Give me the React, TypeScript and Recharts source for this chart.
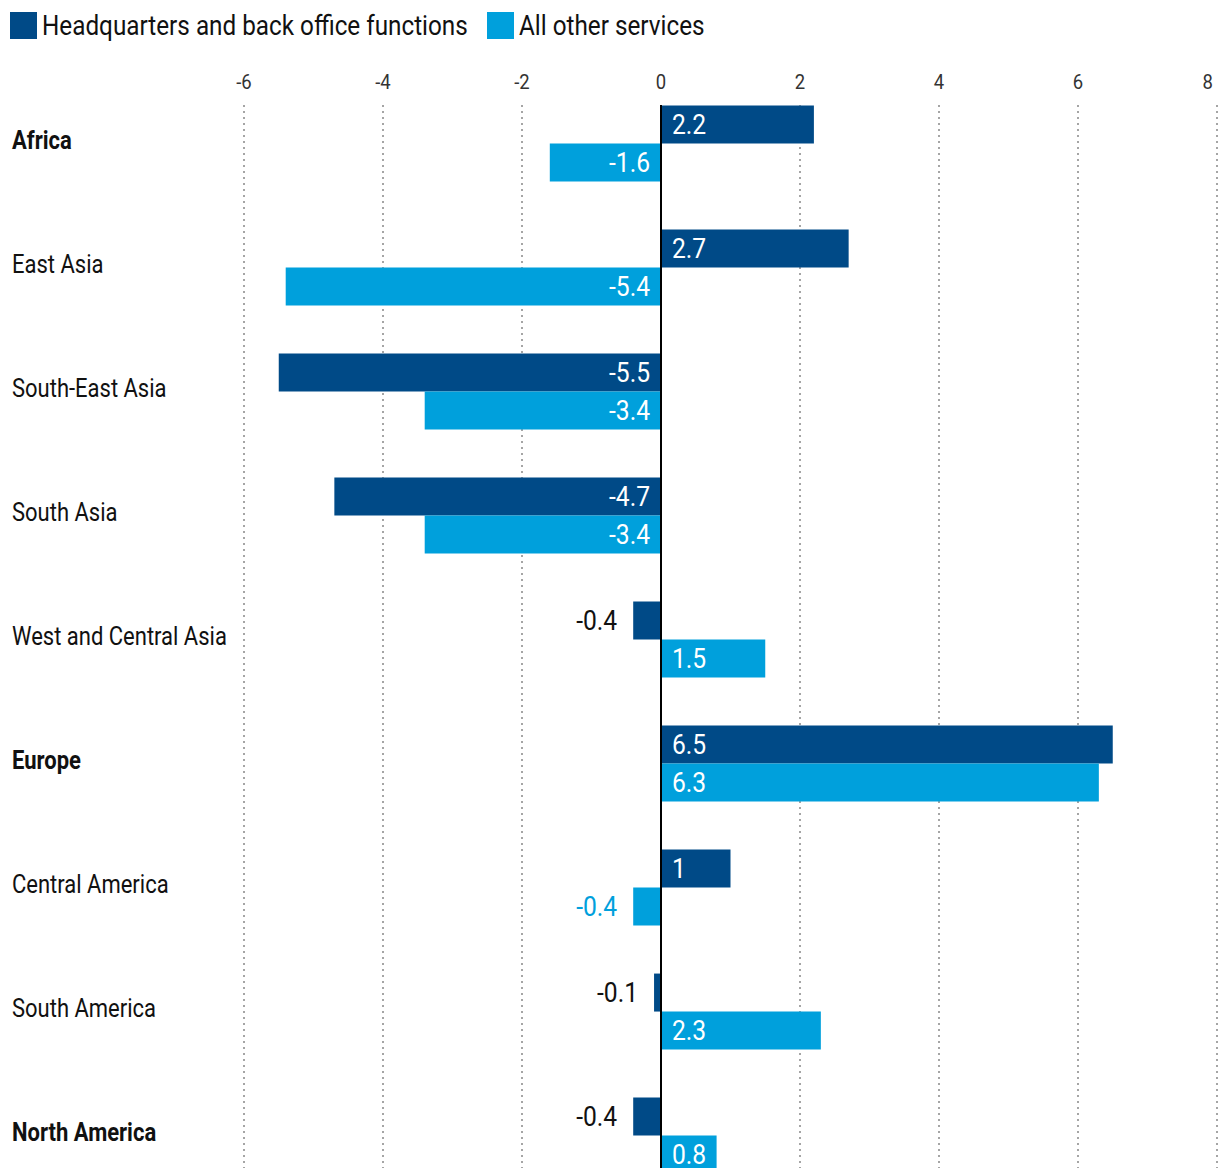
import { BarChart, Bar, XAxis, YAxis, CartesianGrid, ReferenceLine, LabelList } from 'recharts';

const regions = [
  'Africa',
  'East Asia',
  'South-East Asia',
  'South Asia',
  'West and Central Asia',
  'Europe',
  'Central America',
  'South America',
  'North America',
];
const boldRegions = ['Africa', 'Europe', 'North America'];
const hqValues = [2.2, 2.7, -5.5, -4.7, -0.4, 6.5, 1, -0.1, -0.4];
const otherValues = [-1.6, -5.4, -3.4, -3.4, 1.5, 6.3, -0.4, 2.3, 0.8];
const xTicks = [-6, -4, -2, 0, 2, 4, 6, 8];

const seriesNames = ['Headquarters and back office functions', 'All other services'];
const DARK = '#004a87';
const LIGHT = '#00a0dc';
const FONT = "Roboto, 'Noto Sans', sans-serif";
const SQUEEZE = 0.88; // fake a condensed face

const chartData = regions.map((name, i) => ({
  name,
  hq: hqValues[i],
  other: otherValues[i],
}));

// horizontally squeezed svg text
const CText = ({ x, y, children, ...rest }: any) => (
  <g transform={`translate(${x},${y}) scale(${SQUEEZE},1)`}>
    <text x={0} y={0} fontFamily={FONT} {...rest}>
      {children}
    </text>
  </g>
);

// value labels: white inside the bar, outside (left) when the bar is too short
const makeLabel = (outsideColor: string) => (props: any) => {
  const { x, y, width, height, value } = props;
  const left = Math.min(x, x + width);
  const right = Math.max(x, x + width);
  const cy = y + height / 2 + 9;
  const small = Math.abs(value) < 0.5;
  if (value < 0) {
    return (
      <CText
        x={small ? left - 16 : right - 11}
        y={cy}
        textAnchor="end"
        fill={small ? outsideColor : '#fff'}
        fontSize={28}
      >
        {value}
      </CText>
    );
  }
  return (
    <CText x={left + 11} y={cy} textAnchor="start" fill="#fff" fontSize={28}>
      {value}
    </CText>
  );
};

const XTick = (props: any) => {
  const { x, y, payload } = props;
  const last = payload.value === xTicks[xTicks.length - 1];
  return (
    <CText x={last ? x - 4 : x} y={y + 7} textAnchor={last ? 'end' : 'middle'} fill="#333" fontSize={21}>
      {payload.value}
    </CText>
  );
};

const YTick = (props: any) => {
  const { y, payload } = props;
  const bold = boldRegions.includes(payload.value);
  return (
    <CText x={4} y={y + 5} textAnchor="start" fill="#111" fontSize={25} fontWeight={bold ? 'bold' : 'normal'}>
      {payload.value}
    </CText>
  );
};

const ZeroLine = (props: any) => {
  const { x1, y1, x2, y2 } = props;
  return <line x1={x1} y1={y1 + 23} x2={x2} y2={y2} stroke="#000" strokeWidth={2} />;
};

const legendX = [2, 479];

const App = () => {
  return (
    <div style={{ position: 'fixed', left: 0, top: 0, width: 1218, height: 1168, overflow: 'hidden', background: '#fff' }}>
      <svg width={1210} height={48} style={{ position: 'absolute', left: 8, top: 8, display: 'block' }}>
        {seriesNames.map((s, i) => (
          <g key={s}>
            <rect x={legendX[i]} y={4} width={27} height={27} fill={i === 0 ? DARK : LIGHT} />
            <CText x={legendX[i] + 32} y={27} fill="#111" fontSize={27.6}>
              {s}
            </CText>
          </g>
        ))}
      </svg>
      <div style={{ position: 'absolute', left: 8, top: 56 }}>
        <BarChart
          width={1210}
          height={1142}
          data={chartData}
          layout="vertical"
          margin={{ top: 0, right: 1, bottom: 0, left: 0 }}
          barCategoryGap="19%"
          barGap={0}
        >
          <CartesianGrid
            vertical
            horizontal={false}
            stroke="#888"
            strokeWidth={1.5}
            strokeDasharray="2 4"
            y={49}
            height={1093}
          />
          <XAxis
            type="number"
            orientation="top"
            domain={[-6, 8]}
            ticks={xTicks}
            height={26}
            axisLine={false}
            tickLine={false}
            tickSize={0}
            tickMargin={0}
            tick={<XTick />}
            interval={0}
          />
          <YAxis
            type="category"
            dataKey="name"
            width={236}
            axisLine={false}
            tickLine={false}
            tick={<YTick />}
            interval={0}
          />
          <Bar dataKey="hq" name={seriesNames[0]} fill={DARK} isAnimationActive={false}>
            <LabelList dataKey="hq" content={makeLabel('#111')} />
          </Bar>
          <Bar dataKey="other" name={seriesNames[1]} fill={LIGHT} isAnimationActive={false}>
            <LabelList dataKey="other" content={makeLabel(LIGHT)} />
          </Bar>
          <ReferenceLine x={0} shape={<ZeroLine />} />
        </BarChart>
      </div>
    </div>
  );
};

export default App;
